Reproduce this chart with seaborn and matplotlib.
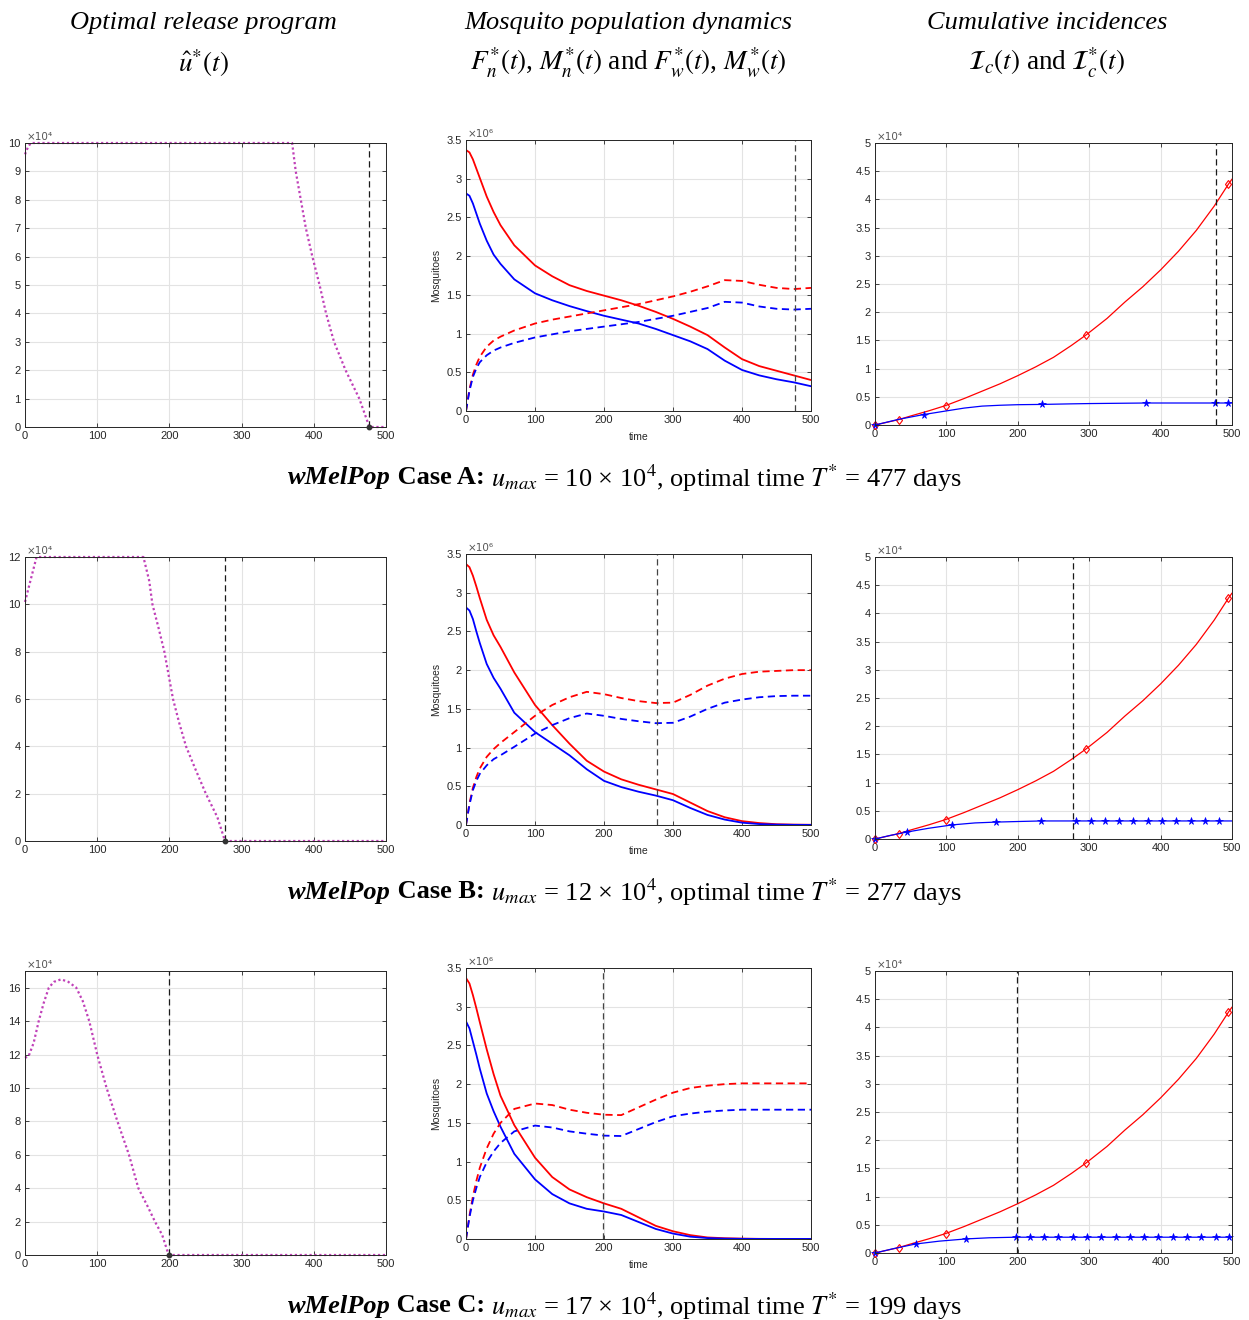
import matplotlib
matplotlib.use("Agg")
import matplotlib.pyplot as plt
import seaborn as sns
from matplotlib.ticker import FuncFormatter, MultipleLocator

# ---------------- data ----------------
cases = ["A", "B", "C"]
u_max = [10, 12, 17]          # x 10^4
t_star = [477, 277, 199]      # optimal time (days)

# optimal release program u*(t), in units of 10^4
t_u_A = [0, 4, 8, 370, 375, 382, 389, 398, 408, 417, 428, 444, 463, 477, 500]
u_A = [9.6, 9.85, 10, 10, 9, 8, 7, 6, 5, 4, 3, 2, 1, 0, 0]
t_u_B = [0, 5, 16, 164, 172, 176.5, 185, 193, 205, 213.5, 223, 236.5, 250.5, 266.5, 277, 500]
u_B = [10.1, 10.7, 12, 12, 11, 10, 9, 8, 6, 5, 4, 3, 2, 1, 0, 0]
t_u_C = [0, 5, 12, 19, 26, 33, 40, 50, 60, 71, 80, 89, 100, 113, 128, 144, 157, 170, 180, 190, 199, 500]
u_C = [11.8, 11.9, 12.7, 14, 15.1, 16, 16.35, 16.5, 16.35, 16, 15.2, 14, 12, 10, 8, 6, 4, 2.9, 2, 1.2, 0, 0]
u_ymax = [10, 12, 17]

# mosquito populations, in units of 10^6
t_pop = [0, 5, 10, 15, 20, 30, 40, 50, 70, 100, 125, 150, 175, 200, 225, 250,
         275, 300, 325, 350, 375, 400, 425, 450, 475, 500]
Fn_A = [3.37, 3.34, 3.25, 3.13, 3.01, 2.77, 2.57, 2.40, 2.14, 1.88, 1.74, 1.625, 1.55, 1.49, 1.43,
        1.36, 1.28, 1.19, 1.09, 0.98, 0.82, 0.67, 0.58, 0.52, 0.46, 0.40]
Mn_A = [2.81, 2.78, 2.68, 2.55, 2.42, 2.20, 2.02, 1.90, 1.70, 1.52, 1.43, 1.355, 1.29, 1.23, 1.18,
        1.13, 1.06, 0.98, 0.90, 0.80, 0.65, 0.53, 0.46, 0.41, 0.37, 0.32]
Fw_A = [0, 0.28, 0.47, 0.60, 0.70, 0.83, 0.91, 0.96, 1.04, 1.13, 1.18, 1.22, 1.26, 1.30, 1.34,
        1.38, 1.43, 1.48, 1.54, 1.61, 1.69, 1.68, 1.63, 1.59, 1.575, 1.59]
Mw_A = [0, 0.26, 0.44, 0.55, 0.63, 0.72, 0.78, 0.82, 0.88, 0.95, 0.99, 1.03, 1.06, 1.09, 1.12,
        1.15, 1.19, 1.23, 1.28, 1.33, 1.41, 1.40, 1.35, 1.32, 1.31, 1.32]

Fn_B = [3.37, 3.33, 3.22, 3.08, 2.93, 2.65, 2.45, 2.30, 1.97, 1.55, 1.29, 1.05, 0.83, 0.69, 0.59,
        0.52, 0.46, 0.40, 0.29, 0.18, 0.10, 0.05, 0.025, 0.01, 0.005, 0.003]
Mn_B = [2.81, 2.77, 2.66, 2.50, 2.35, 2.08, 1.90, 1.76, 1.45, 1.20, 1.05, 0.90, 0.72, 0.57, 0.49,
        0.43, 0.38, 0.32, 0.22, 0.13, 0.07, 0.03, 0.012, 0.005, 0.002, 0.001]
Fw_B = [0, 0.28, 0.48, 0.62, 0.73, 0.88, 0.98, 1.06, 1.20, 1.41, 1.55, 1.65, 1.72, 1.69, 1.64,
        1.60, 1.575, 1.58, 1.68, 1.80, 1.89, 1.95, 1.98, 1.99, 2.0, 2.0]
Mw_B = [0, 0.26, 0.45, 0.57, 0.66, 0.77, 0.85, 0.90, 1.01, 1.18, 1.29, 1.38, 1.44, 1.41, 1.37,
        1.34, 1.315, 1.32, 1.40, 1.50, 1.58, 1.62, 1.65, 1.665, 1.67, 1.67]

Fn_C = [3.37, 3.30, 3.15, 2.98, 2.80, 2.45, 2.13, 1.85, 1.47, 1.05, 0.80, 0.64, 0.54, 0.46, 0.39,
        0.28, 0.17, 0.10, 0.05, 0.02, 0.01, 0.005, 0.002, 0.001, 0.001, 0.001]
Mn_C = [2.81, 2.72, 2.55, 2.38, 2.20, 1.88, 1.65, 1.45, 1.10, 0.77, 0.58, 0.46, 0.39, 0.355, 0.31,
        0.22, 0.13, 0.07, 0.03, 0.012, 0.005, 0.002, 0.001, 0.001, 0.001, 0.001]
Fw_C = [0, 0.30, 0.55, 0.75, 0.92, 1.17, 1.36, 1.50, 1.68, 1.75, 1.73, 1.67, 1.63, 1.605, 1.60,
        1.70, 1.80, 1.89, 1.95, 1.98, 2.0, 2.01, 2.01, 2.01, 2.01, 2.01]
Mw_C = [0, 0.28, 0.50, 0.66, 0.80, 0.99, 1.13, 1.24, 1.39, 1.465, 1.44, 1.39, 1.36, 1.335, 1.33,
        1.42, 1.51, 1.585, 1.62, 1.645, 1.66, 1.67, 1.67, 1.67, 1.67, 1.67]

# cumulative incidences, in units of 10^4
t_inc = [0, 33, 50, 75, 99, 125, 150, 175, 200, 225, 250, 275, 296, 325, 350, 375, 400, 425,
         450, 475, 495, 500]
Ic = [0, 0.095, 0.16, 0.25, 0.345, 0.47, 0.60, 0.73, 0.875, 1.03, 1.2, 1.41, 1.6, 1.89, 2.18,
      2.45, 2.75, 3.08, 3.45, 3.88, 4.27, 4.36]
t_Ic_mk = [0, 33, 99, 296, 495]
Ic_mk = [0, 0.095, 0.345, 1.6, 4.27]

t_Is_A = [0, 33, 68, 100, 125, 150, 175, 200, 234, 275, 300, 380, 476, 494, 500]
Is_A = [0, 0.1, 0.185, 0.25, 0.30, 0.335, 0.35, 0.36, 0.365, 0.375, 0.38, 0.39, 0.39, 0.39, 0.39]
t_Is_A_mk = [0, 68, 234, 380, 476, 494]
Is_A_mk = [0, 0.185, 0.365, 0.39, 0.39, 0.39]

t_Is_B = [0, 20, 45, 75, 108, 140, 170, 200, 233, 282, 500]
Is_B = [0, 0.06, 0.124, 0.19, 0.25, 0.285, 0.30, 0.31, 0.32, 0.32, 0.32]
t_Is_B_mk = [0, 45, 108, 170, 233, 282, 302, 322, 342, 362, 382, 402, 422, 442, 462, 482]
Is_B_mk = [0, 0.124, 0.25, 0.30, 0.32] + [0.32] * 11

t_Is_C = [0, 25, 57, 90, 128, 160, 197, 500]
Is_C = [0, 0.075, 0.16, 0.21, 0.25, 0.27, 0.28, 0.28]
t_Is_C_mk = [0, 57, 128, 197, 217, 237, 257, 277, 297, 317, 337, 357, 377, 397, 417, 437, 457, 477, 496]
Is_C_mk = [0, 0.155, 0.245, 0.28] + [0.28] * 15

U = [(t_u_A, u_A), (t_u_B, u_B), (t_u_C, u_C)]
POP = [(Fn_A, Mn_A, Fw_A, Mw_A), (Fn_B, Mn_B, Fw_B, Mw_B), (Fn_C, Mn_C, Fw_C, Mw_C)]
INC = [(t_Is_A, Is_A, t_Is_A_mk, Is_A_mk), (t_Is_B, Is_B, t_Is_B_mk, Is_B_mk),
       (t_Is_C, Is_C, t_Is_C_mk, Is_C_mk)]

# ---------------- style ----------------
sns.set_theme(style="whitegrid")
plt.rcParams["font.family"] = ["Liberation Sans", "DejaVu Sans"]
plt.rcParams["mathtext.fontset"] = "stix"

W, H = 1249, 1320
fig = plt.figure(figsize=(W / 100, H / 100), dpi=100)

AXC = "#262626"
GRID = "#e3e3e3"
MAG = "#c040b8"


def rect(x0, y0, x1, y1):
    return [x0 / W, 1 - y1 / H, (x1 - x0) / W, (y1 - y0) / H]


def style_ax(ax, scale, power):
    ax.set_facecolor("white")
    ax.set_xlim(0, 500)
    ax.xaxis.set_major_locator(MultipleLocator(100))
    ax.yaxis.set_major_formatter(FuncFormatter(lambda v, p: f"{v / scale:g}"))
    ax.grid(True, color=GRID, lw=0.8)
    ax.set_axisbelow(True)
    for s in ax.spines.values():
        s.set_color(AXC)
        s.set_linewidth(0.7)
    ax.tick_params(direction="in", length=3, width=0.6, color=AXC, labelsize=8,
                   labelcolor=AXC, top=True, right=True, bottom=True, left=True, pad=3)
    ax.text(0.005, 1.005, f"×10{power}", transform=ax.transAxes, ha="left", va="bottom",
            fontsize=7.5, color="#555555", family=["DejaVu Sans"])


for i in range(3):
    dy = 414 * i
    ts = t_star[i]

    # left: optimal release program
    ax = fig.add_axes(rect(25, 143 + dy, 386, 427 + dy))
    tu, uu = U[i]
    sns.lineplot(x=tu, y=[v * 1e4 for v in uu], ax=ax, color=MAG, lw=1.6,
                 linestyle=(0, (1, 1.2)), clip_on=False)
    ax.axvline(ts, color="k", lw=0.9, ls=(0, (5, 3)))
    ax.plot([ts], [0], "o", color="#333333", ms=3.2, clip_on=False, zorder=5)
    ax.set_ylim(0, u_ymax[i] * 1e4)
    ax.yaxis.set_major_locator(MultipleLocator(1e4 if i == 0 else 2e4))
    style_ax(ax, 1e4, "⁴")

    # middle: mosquito population dynamics
    ax = fig.add_axes(rect(466, 140 + dy, 811, 411 + dy))
    Fn, Mn, Fw, Mw = POP[i]
    sc = 1e6
    sns.lineplot(x=t_pop, y=[v * sc for v in Fn], ax=ax, color="red", lw=1.3)
    sns.lineplot(x=t_pop, y=[v * sc for v in Mn], ax=ax, color="blue", lw=1.3)
    sns.lineplot(x=t_pop, y=[v * sc for v in Fw], ax=ax, color="red", lw=1.3, linestyle=(0, (4, 2.5)))
    sns.lineplot(x=t_pop, y=[v * sc for v in Mw], ax=ax, color="blue", lw=1.3, linestyle=(0, (4, 2.5)))
    ax.axvline(ts, color="#444444", lw=0.9, ls=(0, (5, 3)))
    ax.set_ylim(0, 3.5e6)
    ax.yaxis.set_major_locator(MultipleLocator(0.5e6))
    style_ax(ax, 1e6, "⁶")
    ax.set_xlabel("time", fontsize=7.5, color=AXC, labelpad=5)
    ax.set_ylabel("Mosquitoes", fontsize=7.5, color=AXC, labelpad=4)

    # right: cumulative incidences
    ax = fig.add_axes(rect(875, 143 + dy, 1232, 425 + dy))
    tb, ib, tbm, ibm = INC[i]
    sc = 1e4
    sns.lineplot(x=t_inc, y=[v * sc for v in Ic], ax=ax, color="red", lw=0.9)
    ax.plot(t_Ic_mk, [v * sc for v in Ic_mk], ls="none", marker="d", ms=4.5, mfc="none",
            mec="red", mew=0.8, clip_on=False)
    sns.lineplot(x=tb, y=[v * sc for v in ib], ax=ax, color="blue", lw=0.9)
    ax.plot(tbm, [v * sc for v in ibm], ls="none", marker="*", ms=5.5, color="blue",
            mew=0.5, clip_on=False)
    ax.axvline(ts, color="k", lw=0.9, ls=(0, (5, 3)))
    ax.set_ylim(0, 5e4)
    ax.yaxis.set_major_locator(MultipleLocator(0.5e4))
    style_ax(ax, 1e4, "⁴")

# ---------------- column titles ----------------
SERIF = "Liberation Serif"
titles1 = ["Optimal release program", "Mosquito population dynamics", "Cumulative incidences"]
titles2 = [r"$\hat{u}^{*}(t)$",
           r"$F_n^{*}(t)$, $M_n^{*}(t)$ and $F_w^{*}(t)$, $M_w^{*}(t)$",
           r"$\mathcal{I}_c(t)$ and $\mathcal{I}_c^{*}(t)$"]
centers = [203, 628, 1047]
for c, a, b in zip(centers, titles1, titles2):
    fig.text(c / W, 1 - 23 / H, a, ha="center", va="center", fontsize=19, style="italic",
             family=SERIF, color="black")
    fig.text(c / W, 1 - 63 / H, b, ha="center", va="center", fontsize=19.5, family=SERIF,
             color="black")

# ---------------- row captions ----------------
renderer = fig.canvas.get_renderer()
for i, case in enumerate(cases):
    y = 1 - (478 + 414 * i) / H
    pieces = [("wMelPop", dict(weight="bold", style="italic")),
              (f" Case {case}:", dict(weight="bold")),
              (f" $u_{{max}}$ = {u_max[i]} × 10$^{{4}}$, optimal time $T^{{*}}$ = {t_star[i]} days", {})]
    texts = [fig.text(0, y, s, fontsize=19, family=SERIF, va="center", ha="left", color="black", **kw)
             for s, kw in pieces]
    widths = [t.get_window_extent(renderer).width for t in texts]
    x = 625 - sum(widths) / 2
    for t, w in zip(texts, widths):
        t.set_x(x / W)
        x += w

fig.savefig("out.png", dpi=100)
